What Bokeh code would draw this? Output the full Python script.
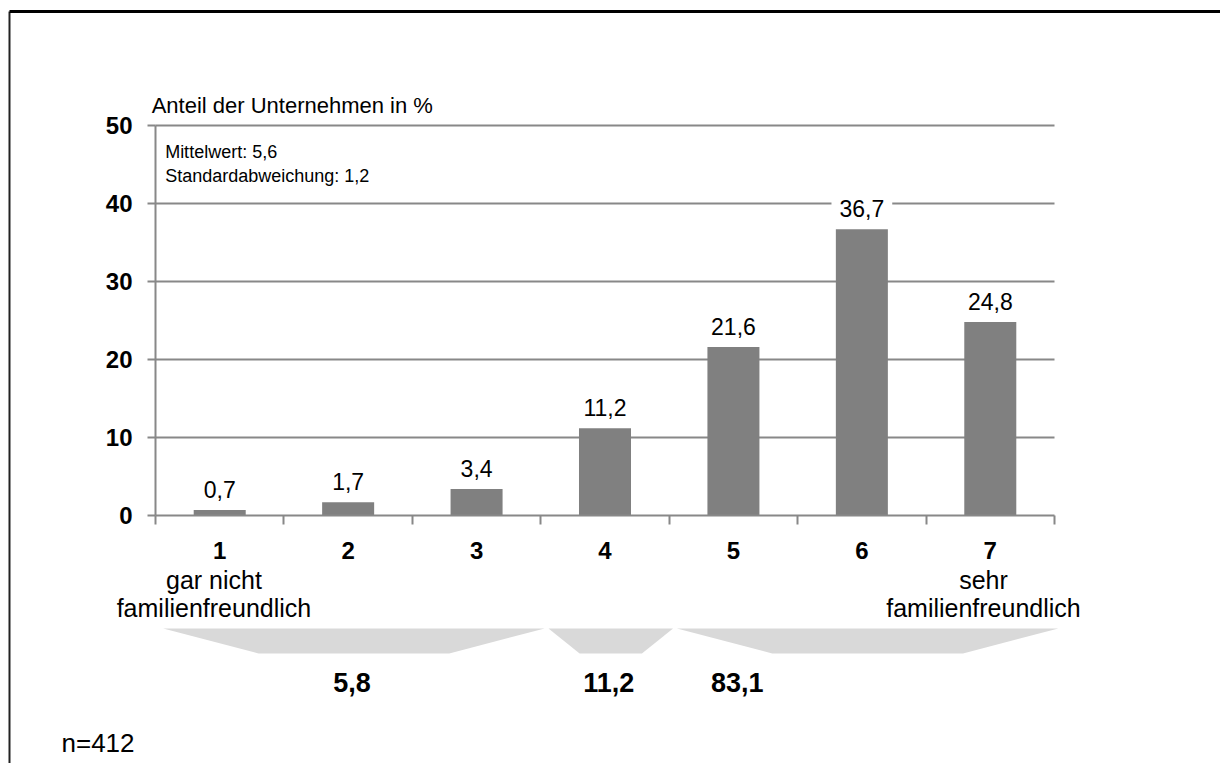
from bokeh.plotting import figure
from bokeh.models import Range1d, FixedTicker
from bokeh.core.properties import value
from bokeh.embed import file_html
from bokeh.resources import INLINE

# ---- data ----
categories = [1, 2, 3, 4, 5, 6, 7]
shares = [0.7, 1.7, 3.4, 11.2, 21.6, 36.7, 24.8]
y_ticks = [0, 10, 20, 30, 40, 50]
axis_title = "Anteil der Unternehmen in %"
stats_lines = ["Mittelwert: 5,6", "Standardabweichung: 1,2"]
low_end_label = ["gar nicht", "familienfreundlich"]
high_end_label = ["sehr", "familienfreundlich"]
groups = [[1, 2, 3], [4], [5, 6, 7]]
group_label_cats = [2, 4, 5]
sample_note = "n=412"

FONT = "Liberation Sans"
GRAY = "#888888"

def de(v):
    return f"{v:.1f}".replace(".", ",")

# layout: plot area from x=155..1054 px and y=125 (50%)..515 (0%) px
PX_X = 128.43   # px per category
PX_Y = 7.8      # px per percent
W, H = 1220, 763
x_lo, x_hi = 0.5 - 155 / PX_X, 7.5 + (W - 1054) / PX_X
y_lo, y_hi = -(H - 515) / PX_Y, 50 + 125 / PX_Y

p = figure(width=W, height=H,
           x_range=Range1d(x_lo, x_hi), y_range=Range1d(y_lo, y_hi),
           output_backend="svg", toolbar_location=None,
           min_border=0, outline_line_color=None,
           background_fill_color="white", border_fill_color="white")
p.xgrid.visible = False
p.ygrid.visible = False

# frame lines (left and top only)
frame_x = x_lo + 9 / PX_X
frame_y = y_hi - 11 / PX_Y
p.line(x=[frame_x, frame_x], y=[y_lo, frame_y], line_color="#222222", line_width=2)
p.line(x=[frame_x, x_hi], y=[frame_y, frame_y], line_color="black", line_width=3)

# gridlines within the plot area
grid_y = [t for t in y_ticks if t > 0]
p.segment(x0=[min(categories) - 0.5] * len(grid_y), x1=[max(categories) + 0.5] * len(grid_y),
          y0=grid_y, y1=grid_y, line_color=GRAY, line_width=2)

# value labels (white box masks gridlines)
p.text(x=categories, y=[s + 2.6 for s in shares], text=[de(s) for s in shares],
       text_font=value(FONT), text_font_size="23px", text_align="center",
       text_baseline="alphabetic", text_color="black",
       background_fill_color="white", padding=8)

# bars
p.vbar(x=categories, top=shares, width=0.405, bottom=0,
       fill_color="#808080", line_color=None)

# axes
xa = p.xaxis[0]
xa.fixed_location = 0
xa.bounds = (min(categories) - 0.5, max(categories) + 0.5)
xa.ticker = FixedTicker(ticks=categories,
                        minor_ticks=[c - 0.5 for c in categories] + [max(categories) + 0.5])
xa.axis_line_color = GRAY
xa.axis_line_width = 2
xa.major_tick_out = 0
xa.major_tick_in = 0
xa.minor_tick_out = 9
xa.minor_tick_in = 0
xa.minor_tick_line_color = GRAY
xa.minor_tick_line_width = 2
xa.major_label_text_font = FONT
xa.major_label_text_font_size = "24px"
xa.major_label_text_font_style = "bold"
xa.major_label_text_color = "black"
xa.major_label_standoff = 17

ya = p.yaxis[0]
ya.fixed_location = min(categories) - 0.5
ya.bounds = (y_ticks[0], y_ticks[-1])
ya.ticker = FixedTicker(ticks=y_ticks)
ya.axis_line_color = GRAY
ya.axis_line_width = 2
ya.major_tick_out = 8
ya.major_tick_in = 0
ya.major_tick_line_color = GRAY
ya.major_tick_line_width = 2
ya.minor_tick_line_color = None
ya.major_label_text_font = FONT
ya.major_label_text_font_size = "24px"
ya.major_label_text_font_style = "bold"
ya.major_label_text_color = "black"
ya.major_label_standoff = 15

# axis title and statistics
p.text(x=[0.47], y=[52.6], text=[axis_title], text_font=value(FONT),
       text_font_size="22px", text_align="left", text_baseline="alphabetic", text_color="black")
p.text(x=[0.575, 0.575], y=[46.6, 43.5], text=stats_lines, text_font=value(FONT),
       text_font_size="18px", text_align="left", text_baseline="alphabetic", text_color="black")

# end-point descriptions
lo_c, hi_c = min(categories), max(categories)
p.text(x=[lo_c - 0.045] * 2, y=[-8.21, -11.88], text=low_end_label, text_font=value(FONT),
       text_font_size="25px", text_align="center", text_baseline="alphabetic", text_color="black")
p.text(x=[hi_c - 0.053] * 2, y=[-8.21, -11.88], text=high_end_label, text_font=value(FONT),
       text_font_size="25px", text_align="center", text_baseline="alphabetic", text_color="black")

# group brackets (trapezoids) and group totals
xs, ys, totals = [], [], []
share_of = dict(zip(categories, shares))
for g in groups:
    lo = min(g) - 0.5 + 0.06
    hi = max(g) + 0.5 + 0.03
    w = hi - lo
    xs.append([lo, hi, hi - 0.25 * w, lo + 0.25 * w])
    ys.append([-14.49, -14.49, -17.69, -17.69])
    totals.append(de(round(sum(share_of[c] for c in g), 1)))
p.patches(xs=xs, ys=ys, fill_color="#d9d9d9", line_color=None)
p.text(x=[c + 0.03 for c in group_label_cats], y=[-21.4] * len(totals), text=totals,
       text_font=value(FONT), text_font_size="27px", text_font_style="bold",
       text_align="center", text_baseline="alphabetic", text_color="black")

# sample size
p.text(x=[0.5 - 94 / PX_X], y=[-29.2], text=[sample_note], text_font=value(FONT),
       text_font_size="26px", text_align="left", text_baseline="alphabetic", text_color="black")

open("out.html", "w").write(file_html(p, INLINE))
